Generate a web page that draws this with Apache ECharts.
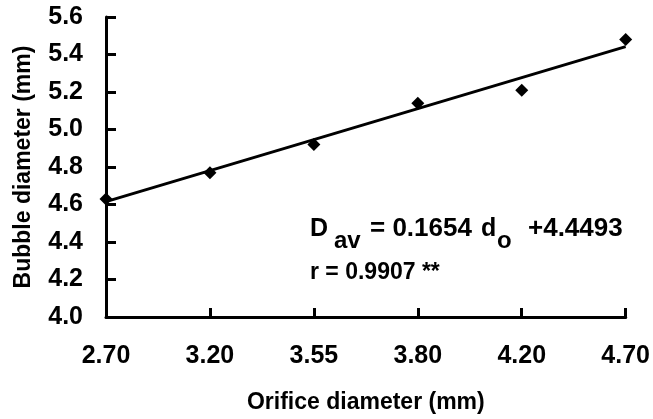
<!DOCTYPE html>
<html>
<head>
<meta charset="utf-8">
<script src="https://cdn.jsdelivr.net/npm/echarts@6/dist/echarts.min.js"></script>
<style>
  html, body { margin: 0; padding: 0; background: #fff; }
  #chart { width: 653px; height: 419px; }
</style>
</head>
<body>
<div id="chart"></div>
<script>
// orifice diameter categories (equally spaced on the axis)
var orifice = ["2.70", "3.20", "3.55", "3.80", "4.20", "4.70"];
// measured mean bubble diameter (mm)
var bubble = [4.63, 4.77, 4.92, 5.14, 5.21, 5.48];
// fitted line ends, read at first and last category
var fitEnds = [4.615, 5.442];

var font = "Liberation Sans, Arial, sans-serif";
var txt = { fontFamily: font, fontWeight: "bold", fill: "#000", verticalAlign: "middle" };

var myChart = echarts.init(document.getElementById("chart"));

var option = {
  animation: false,
  backgroundColor: "#fff",
  grid: { left: 106, right: 24, top: 17, bottom: 97 },
  xAxis: {
    type: "category",
    data: orifice,
    boundaryGap: false,
    name: "Orifice diameter (mm)",
    nameLocation: "middle",
    nameGap: 74,
    nameTextStyle: { fontFamily: font, fontWeight: "bold", fontSize: 23, color: "#000" },
    axisLine: { onZero: false, lineStyle: { color: "#000", width: 3 } },
    // negative length: ticks point up into the plot
    axisTick: { show: true, interval: 0, length: -9, lineStyle: { color: "#000", width: 3 } },
    axisLabel: { margin: 27, fontFamily: font, fontWeight: "bold", fontSize: 25, color: "#000" },
    splitLine: { show: false }
  },
  yAxis: {
    type: "value",
    min: 4.0,
    max: 5.6,
    interval: 0.2,
    name: "Bubble diameter (mm)",
    nameLocation: "middle",
    nameGap: 71,
    nameTextStyle: { fontFamily: font, fontWeight: "bold", fontSize: 23, color: "#000" },
    axisLine: { show: true, lineStyle: { color: "#000", width: 3 } },
    axisTick: { show: true, length: -10, lineStyle: { color: "#000", width: 3 } },
    axisLabel: {
      margin: 23, fontFamily: font, fontWeight: "bold", fontSize: 25, color: "#000",
      formatter: function (v) { return v.toFixed(1); }
    },
    splitLine: { show: false }
  },
  series: [
    {
      name: "fit",
      type: "line",
      data: [[orifice[0], fitEnds[0]], [orifice[orifice.length - 1], fitEnds[1]]],
      showSymbol: false,
      symbol: "none",
      lineStyle: { color: "#000", width: 3 },
      z: 2
    },
    {
      name: "measured",
      type: "scatter",
      data: bubble,
      symbol: "diamond",
      symbolSize: 13,
      itemStyle: { color: "#000", opacity: 1 },
      z: 3
    }
  ],
  graphic: [
    { type: "text", x: 310, y: 229, style: Object.assign({ text: "D", fontSize: 25 }, txt) },
    { type: "text", x: 334, y: 241, style: Object.assign({ text: "av", fontSize: 24 }, txt) },
    { type: "text", x: 370, y: 229, style: Object.assign({ text: "= 0.1654", fontSize: 26 }, txt) },
    { type: "text", x: 481, y: 229, style: Object.assign({ text: "d", fontSize: 25 }, txt) },
    { type: "text", x: 497, y: 241, style: Object.assign({ text: "o", fontSize: 24 }, txt) },
    { type: "text", x: 528, y: 229, style: Object.assign({ text: "+4.4493", fontSize: 26 }, txt) },
    { type: "text", x: 310, y: 273, style: Object.assign({ text: "r = 0.9907 **", fontSize: 23 }, txt) }
  ]
};

myChart.setOption(option);
</script>
</body>
</html>
